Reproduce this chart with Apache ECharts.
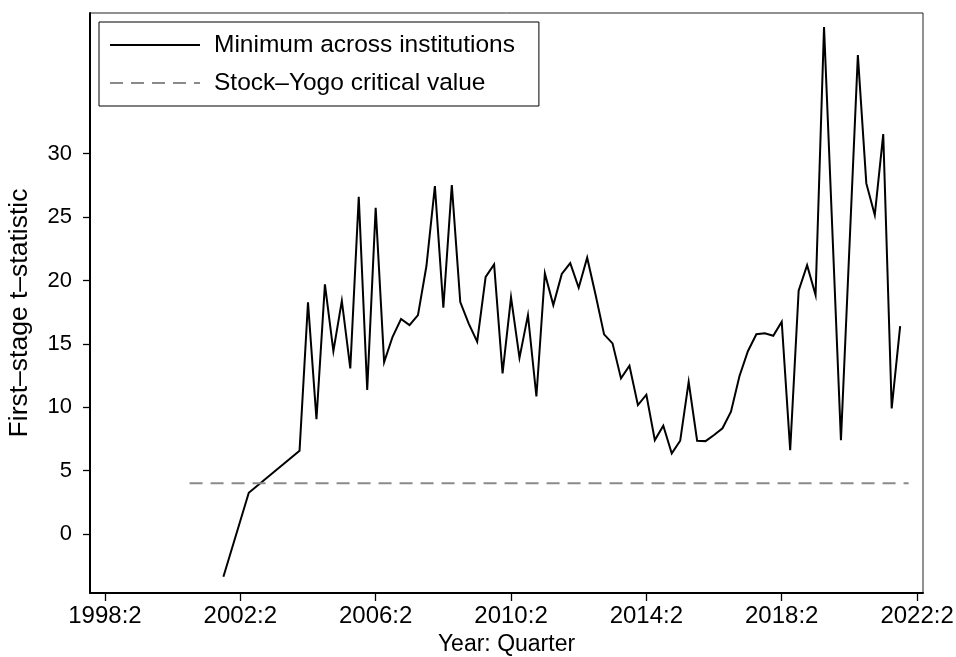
<!DOCTYPE html>
<html>
<head>
<meta charset="utf-8">
<script src="https://cdn.jsdelivr.net/npm/echarts@6/dist/echarts.min.js"></script>
<style>
  html, body { margin: 0; padding: 0; background: #ffffff; }
  #chart { width: 956px; height: 657px; }
</style>
</head>
<body>
<div id="chart"></div>
<script>
// Quarterly first-stage t-statistics (minimum across institutions)
const quarters = [
  "2001:4", "2002:3", "2004:1", "2004:2", "2004:3", "2004:4", "2005:1", "2005:2",
  "2005:3", "2005:4", "2006:1", "2006:2", "2006:3", "2006:4", "2007:1", "2007:2",
  "2007:3", "2007:4", "2008:1", "2008:2", "2008:3", "2008:4", "2009:1", "2009:2",
  "2009:3", "2009:4", "2010:1", "2010:2", "2010:3", "2010:4", "2011:1", "2011:2",
  "2011:3", "2011:4", "2012:1", "2012:2", "2012:3", "2012:4", "2013:1", "2013:2",
  "2013:3", "2013:4", "2014:1", "2014:2", "2014:3", "2014:4", "2015:1", "2015:2",
  "2015:3", "2015:4", "2016:1", "2016:2", "2016:3", "2016:4", "2017:1", "2017:2",
  "2017:3", "2017:4", "2018:1", "2018:2", "2018:3", "2018:4", "2019:1", "2019:2",
  "2019:3", "2020:1", "2020:3", "2020:4", "2021:1", "2021:2", "2021:3", "2021:4"
];
const tStats = [
  -3.37, 3.26, 6.57, 18.27, 9.07, 19.69, 14.43, 18.40,
  13.07, 26.60, 11.36, 25.73, 13.56, 15.56, 16.96, 16.48,
  17.27, 21.14, 27.44, 17.85, 27.52, 18.30, 16.60, 15.17,
  20.29, 21.27, 12.67, 18.67, 13.90, 17.27, 10.85, 20.56,
  18.06, 20.52, 21.37, 19.43, 21.80, 18.85, 15.75, 15.04,
  12.28, 13.28, 10.17, 10.99, 7.41, 8.54, 6.36, 7.36,
  12.01, 7.36, 7.33, 7.81, 8.34, 9.65, 12.45, 14.42,
  15.76, 15.83, 15.64, 16.75, 6.62, 19.19, 21.21, 18.85,
  40.00, 7.41, 37.78, 27.66, 25.16, 31.55, 9.91, 16.40
];

// Stock-Yogo critical value and the span it is drawn over
const criticalQuarters = ["2000:4", "2022:1"];
const criticalValue = 4.0;

// Axis ticks
const xTickLabels = ["1998:2", "2002:2", "2006:2", "2010:2", "2014:2", "2018:2", "2022:2"];
const yTickValues = [0, 5, 10, 15, 20, 25, 30];

// Quarters are placed on a numeric axis counted from 1998:2
const BASE_YEAR = 1998, BASE_Q = 2;
function qIndex(s) {
  const [y, q] = s.split(":").map(Number);
  return (y - BASE_YEAR) * 4 + (q - BASE_Q);
}
function qLabel(i) {
  const total = BASE_YEAR * 4 + (BASE_Q - 1) + Math.round(i);
  return Math.floor(total / 4) + ":" + ((total % 4) + 1);
}

const lineData = quarters.map((q, i) => [qIndex(q), tStats[i]]);
const critData = criticalQuarters.map(q => [qIndex(q), criticalValue]);
const xTickValues = xTickLabels.map(qIndex);

const FONT = "Liberation Sans, Arial, Helvetica, sans-serif";

const chart = echarts.init(document.getElementById("chart"), null, { renderer: "canvas" });
chart.setOption({
  backgroundColor: "#ffffff",
  animation: false,
  textStyle: { fontFamily: FONT, color: "#000" },
  grid: {
    left: 90, right: 33, top: 13, bottom: 64,
    outerBoundsMode: "none",
    containLabel: false,
    show: true, borderColor: "#222", borderWidth: 1, backgroundColor: "#ffffff"
  },
  legend: {
    orient: "vertical",
    left: 99, top: 22,
    padding: [9, 24, 9, 10],
    itemGap: 10,
    itemWidth: 90, itemHeight: 14,
    backgroundColor: "#ffffff",
    borderColor: "#000", borderWidth: 1, borderRadius: 0,
    itemStyle: { opacity: 0 },
    textStyle: { fontFamily: FONT, fontSize: 24.5, color: "#000", lineHeight: 28, padding: [0, 0, 0, 9] },
    data: ["Minimum across institutions", "Stock\u2013Yogo critical value"]
  },
  xAxis: {
    type: "value",
    min: -1.77, max: 96.7,
    name: "Year: Quarter",
    nameLocation: "middle",
    nameGap: 37,
    nameTextStyle: { fontFamily: FONT, fontSize: 23, color: "#000" },
    axisLine: { show: true, onZero: false, lineStyle: { color: "#000", width: 2 } },
    axisTick: { show: true, length: 8, inside: false, customValues: xTickValues, lineStyle: { color: "#000", width: 1.3 } },
    axisLabel: {
      customValues: xTickValues,
      fontFamily: FONT, fontSize: 24, color: "#000", margin: 11,
      formatter: v => qLabel(v)
    },
    splitLine: { show: false }
  },
  yAxis: {
    type: "value",
    min: -4.65, max: 41.1,
    name: "First\u2013stage t\u2013statistic",
    nameLocation: "middle",
    nameGap: 57,
    nameTextStyle: { fontFamily: FONT, fontSize: 26.5, color: "#000", padding: [0, 20, 0, 0] },
    axisLine: { show: true, onZero: false, lineStyle: { color: "#000", width: 2 } },
    axisTick: { show: true, length: 7, inside: false, customValues: yTickValues, lineStyle: { color: "#000", width: 1.3 } },
    axisLabel: {
      customValues: yTickValues,
      fontFamily: FONT, fontSize: 22, color: "#000", margin: 18
    },
    splitLine: { show: false }
  },
  series: [
    {
      name: "Minimum across institutions",
      type: "line",
      data: lineData,
      symbol: "none",
      z: 2,
      lineStyle: { color: "#000", width: 2, join: "miter" },
      itemStyle: { color: "#000" }
    },
    {
      name: "Stock\u2013Yogo critical value",
      type: "line",
      data: critData,
      symbol: "none",
      z: 3,
      lineStyle: { color: "#8a8a8a", width: 2, type: [13, 8] },
      itemStyle: { color: "#8a8a8a" }
    }
  ]
});
</script>
</body>
</html>
